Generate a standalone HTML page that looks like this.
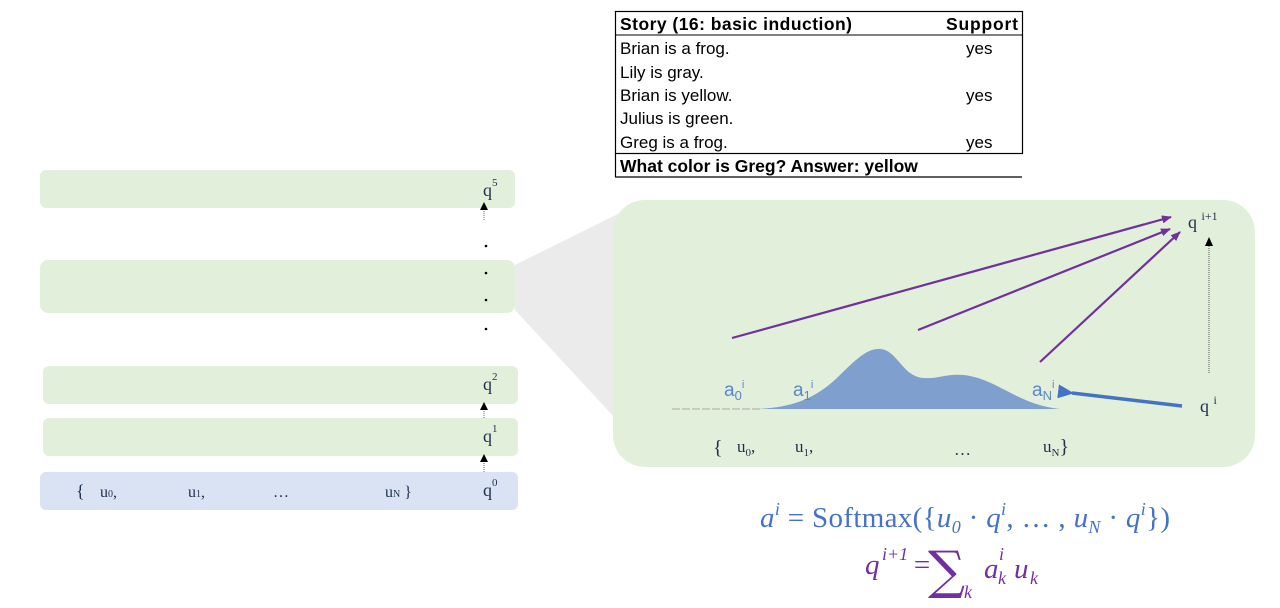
<!DOCTYPE html>
<html><head><meta charset="utf-8"><style>
html,body{margin:0;padding:0;background:#fff;}
svg{display:block;}
.tt{font-family:"Liberation Sans",Arial,sans-serif;font-size:17px;fill:#000;}
.tb{font-family:"Liberation Sans",Arial,sans-serif;font-size:17.5px;font-weight:bold;fill:#000;}
.s{font-family:"Liberation Serif","DejaVu Serif",serif;fill:#1f2f4f;}
.m{font-family:"Liberation Serif","DejaVu Serif",serif;font-style:italic;}
</style></head><body>
<svg width="1280" height="608" viewBox="0 0 1280 608" xmlns="http://www.w3.org/2000/svg">
<defs>
<marker id="ap" markerWidth="10" markerHeight="8" refX="9" refY="4" orient="auto" markerUnits="userSpaceOnUse"><path d="M0,0 L10,4 L0,8 z" fill="#7030a0"/></marker>
<marker id="ab" markerWidth="16" markerHeight="14" refX="2" refY="7" orient="auto" markerUnits="userSpaceOnUse"><path d="M16,0 L0,7 L16,14 z" fill="#4472c4"/></marker>
</defs>

<!-- table -->
<rect x="615.5" y="11.5" width="407" height="142" fill="none" stroke="#000" stroke-width="1.2"/>
<line x1="615" y1="35" x2="1022" y2="35" stroke="#000" stroke-width="1"/>
<line x1="615.5" y1="153" x2="615.5" y2="177" stroke="#000" stroke-width="1.2"/>
<line x1="615" y1="177" x2="1022" y2="177" stroke="#000" stroke-width="1.2"/>
<text class="tb" x="620" y="30" textLength="232">Story (16: basic induction)</text>
<text class="tb" x="946" y="30" textLength="72">Support</text>
<text class="tt" x="620" y="54">Brian is a frog.</text><text class="tt" x="966" y="54">yes</text>
<text class="tt" x="620" y="78">Lily is gray.</text>
<text class="tt" x="620" y="101">Brian is yellow.</text><text class="tt" x="966" y="101">yes</text>
<text class="tt" x="620" y="124">Julius is green.</text>
<text class="tt" x="620" y="148">Greg is a frog.</text><text class="tt" x="966" y="148">yes</text>
<text class="tb" x="620" y="172">What color is Greg?  Answer: yellow</text>

<!-- funnel -->
<polygon points="515,265 640,203 640,445 515,310" fill="#ebebeb"/>

<!-- left stack -->
<rect x="40" y="170" width="475" height="38" rx="6" fill="#e2efda"/>
<rect x="40" y="260" width="475" height="53" rx="8" fill="#e2efda"/>
<rect x="43" y="366" width="475" height="38" rx="6" fill="#e2efda"/>
<rect x="43" y="418" width="475" height="38" rx="6" fill="#e2efda"/>
<rect x="40" y="472" width="478" height="38" rx="6" fill="#dae3f3"/>
<text class="s" x="483" y="196" font-size="18">q<tspan font-size="11" dy="-10">5</tspan></text>
<text class="s" x="483" y="390" font-size="18">q<tspan font-size="11" dy="-10">2</tspan></text>
<text class="s" x="483" y="442" font-size="18">q<tspan font-size="11" dy="-10">1</tspan></text>
<text class="s" x="483" y="496" font-size="18">q<tspan font-size="11" dy="-10">0</tspan></text>
<g stroke="#666" stroke-dasharray="1,1">
<line x1="484" y1="220" x2="484" y2="210"/>
<line x1="484" y1="418" x2="484" y2="410"/>
<line x1="484" y1="472" x2="484" y2="462"/>
</g>
<g fill="#000">
<polygon points="480,210 484,202 488,210"/>
<polygon points="480,410 484,402 488,410"/>
<polygon points="480,462 484,454 488,462"/>
<circle cx="486" cy="246" r="1.3"/><circle cx="486" cy="273" r="1.3"/><circle cx="486" cy="300" r="1.3"/><circle cx="486" cy="329" r="1.3"/></g>
<text class="s" x="76" y="497" font-size="18">{</text>
<text class="s" x="100" y="497" font-size="16">u<tspan font-size="10">0</tspan>,</text>
<text class="s" x="188" y="497" font-size="16">u<tspan font-size="10">1</tspan>,</text>
<text class="s" x="273" y="497" font-size="16">…</text>
<text class="s" x="385" y="497" font-size="16">u<tspan font-size="10">N</tspan> }</text>

<!-- big panel -->
<rect x="613" y="200" width="642" height="267" rx="32" fill="#e2efda"/>
<line x1="672" y1="409" x2="760" y2="409" stroke="#aaa" stroke-dasharray="8,2"/>
<path d="M755,409 C790,408 815,400 840,375 C860,355 870,348 881,349 C898,351 903,378 925,378 C940,379 950,372 970,376 C1000,382 1020,405 1060,409 Z" fill="#7f9fcf"/>
<g font-family="'Liberation Sans',Arial,sans-serif" fill="#5b86c8" font-size="19">
<text x="724" y="396">a<tspan font-size="13" dy="4">0</tspan><tspan font-size="11" dy="-12">i</tspan></text>
<text x="793" y="396">a<tspan font-size="13" dy="4">1</tspan><tspan font-size="11" dy="-12">i</tspan></text>
<text x="1032" y="396">a<tspan font-size="13" dy="4">N</tspan><tspan font-size="11" dy="-12">i</tspan></text>
</g>
<line x1="732" y1="338" x2="1171" y2="217" stroke="#7030a0" stroke-width="2.2" marker-end="url(#ap)"/>
<line x1="918" y1="330" x2="1170" y2="229" stroke="#7030a0" stroke-width="2.2" marker-end="url(#ap)"/>
<line x1="1040" y1="362" x2="1180" y2="232" stroke="#7030a0" stroke-width="2.2" marker-end="url(#ap)"/>
<line x1="1209" y1="373" x2="1209" y2="246" stroke="#555" stroke-dasharray="1,1"/>
<polygon points="1205,246 1209,237 1213,246" fill="#000"/>
<line x1="1182" y1="406" x2="1072" y2="393" stroke="#4472c4" stroke-width="3.5" marker-end="url(#ab)"/>
<text class="s" x="1188" y="228" font-size="18">q <tspan font-size="12" dy="-8">i+1</tspan></text>
<text class="s" x="1200" y="412" font-size="18">q <tspan font-size="12" dy="-8">i</tspan></text>
<text class="s" x="713" y="454" font-size="20">{</text>
<text class="s" x="737" y="452" font-size="17">u<tspan font-size="11" dy="4">0</tspan><tspan dy="-4">,</tspan></text>
<text class="s" x="795" y="452" font-size="17">u<tspan font-size="11" dy="4">1</tspan><tspan dy="-4">,</tspan></text>
<text class="s" x="954" y="455" font-size="17">…</text>
<text class="s" x="1043" y="452" font-size="17">u<tspan font-size="11" dy="4">N</tspan><tspan font-size="20" dy="-3">}</tspan></text>

<!-- formulas -->
<text class="m" x="760" y="527" font-size="29" fill="#4472c4" textLength="410">a<tspan font-size="18" dy="-12">i</tspan><tspan dy="12" font-style="normal"> = Softmax({</tspan>u<tspan font-size="18" dy="6">0</tspan><tspan dy="-6" font-style="normal"> · </tspan>q<tspan font-size="18" dy="-12">i</tspan><tspan dy="12" font-style="normal">, … , </tspan>u<tspan font-size="18" dy="6">N</tspan><tspan dy="-6" font-style="normal"> · </tspan>q<tspan font-size="18" dy="-12">i</tspan><tspan dy="12" font-style="normal">})</tspan></text>
<g fill="#7030a0">
<text class="m" x="865" y="574" font-size="29">q</text>
<text class="m" x="882" y="560" font-size="18">i+1</text>
<text class="m" x="912" y="574" font-size="29" font-style="normal">=</text>
<text x="928" y="588" font-size="52" font-family="'DejaVu Serif',serif">∑</text>
<text class="m" x="964" y="598" font-size="18">k</text>
<text class="m" x="984" y="578" font-size="29">a</text>
<text class="m" x="999" y="560" font-size="18">i</text>
<text class="m" x="998" y="584" font-size="18">k</text>
<text class="m" x="1014" y="578" font-size="29">u</text>
<text class="m" x="1030" y="584" font-size="18">k</text>
</g>
</svg>
</body></html>
